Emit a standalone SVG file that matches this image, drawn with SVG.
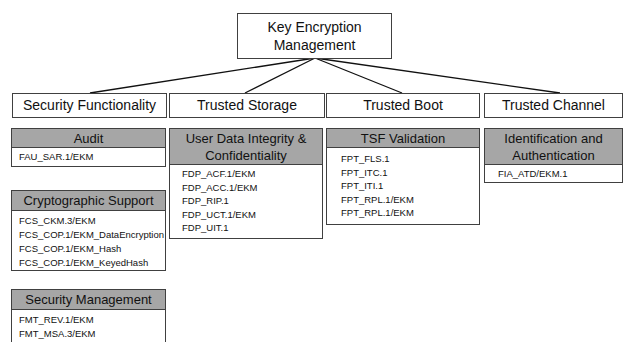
<svg xmlns="http://www.w3.org/2000/svg" width="633" height="342" viewBox="0 0 633 342">
<style>
.box{fill:#fff;stroke:#404040;stroke-width:1}
.hdr{fill:#a6a6a6;stroke:#404040;stroke-width:1}
.t1{font-family:"Liberation Sans",Arial,sans-serif;font-size:14px;fill:#111;text-anchor:middle}
.t2{font-family:"Liberation Sans",Arial,sans-serif;font-size:13px;fill:#111;text-anchor:middle}
.t3{font-family:"Liberation Sans",Arial,sans-serif;font-size:9.5px;fill:#111}
.ln{stroke:#111;stroke-width:1.3;fill:none}
</style>
<rect width="633" height="342" fill="#fff"/>
<g id="connectors">
<line class="ln" x1="315" y1="58" x2="90" y2="93"/>
<line class="ln" x1="315" y1="58" x2="245" y2="93"/>
<line class="ln" x1="315" y1="58" x2="402" y2="93"/>
<line class="ln" x1="315" y1="58" x2="560" y2="93"/>
</g>
<g id="root">
<rect class="box" x="237.5" y="13.5" width="154" height="45"/>
<text class="t1" x="314.5" y="32">Key Encryption</text>
<text class="t1" x="314.5" y="50">Management</text>
</g>
<g id="security-functionality">
<rect class="box" x="12.5" y="93.5" width="154" height="24"/>
<text class="t1" x="89.5" y="110">Security Functionality</text>
</g>
<g id="trusted-storage">
<rect class="box" x="169.5" y="93.5" width="155" height="24"/>
<text class="t1" x="247" y="110">Trusted Storage</text>
</g>
<g id="trusted-boot">
<rect class="box" x="326.5" y="93.5" width="153" height="24"/>
<text class="t1" x="403" y="110">Trusted Boot</text>
</g>
<g id="trusted-channel">
<rect class="box" x="484.5" y="93.5" width="138" height="24"/>
<text class="t1" x="553.5" y="110">Trusted Channel</text>
</g>
<g id="audit">
<rect class="box" x="11.5" y="128.5" width="154" height="38"/>
<rect class="hdr" x="11.5" y="128.5" width="154" height="19"/>
<text class="t2" x="88.5" y="142.5">Audit</text>
<text class="t3" x="19" y="160">FAU_SAR.1/EKM</text>
</g>
<g id="user-data-integrity">
<rect class="box" x="169.5" y="128.5" width="153" height="110"/>
<rect class="hdr" x="169.5" y="128.5" width="153" height="36"/>
<text class="t2" x="246" y="143">User Data Integrity &amp;</text>
<text class="t2" x="246" y="160">Confidentiality</text>
<text class="t3" x="182" y="177">FDP_ACF.1/EKM</text>
<text class="t3" x="182" y="190.5">FDP_ACC.1/EKM</text>
<text class="t3" x="182" y="204">FDP_RIP.1</text>
<text class="t3" x="182" y="217.5">FDP_UCT.1/EKM</text>
<text class="t3" x="182" y="231">FDP_UIT.1</text>
</g>
<g id="tsf-validation">
<rect class="box" x="326.5" y="128.5" width="153" height="96"/>
<rect class="hdr" x="326.5" y="128.5" width="153" height="19"/>
<text class="t2" x="403" y="142.5">TSF Validation</text>
<text class="t3" x="341" y="162">FPT_FLS.1</text>
<text class="t3" x="341" y="175.5">FPT_ITC.1</text>
<text class="t3" x="341" y="189">FPT_ITI.1</text>
<text class="t3" x="341" y="202.5">FPT_RPL.1/EKM</text>
<text class="t3" x="341" y="216">FPT_RPL.1/EKM</text>
</g>
<g id="identification-authentication">
<rect class="box" x="484.5" y="128.5" width="138" height="54"/>
<rect class="hdr" x="484.5" y="128.5" width="138" height="36"/>
<text class="t2" x="553.5" y="143">Identification and</text>
<text class="t2" x="553.5" y="160">Authentication</text>
<text class="t3" x="498" y="177">FIA_ATD/EKM.1</text>
</g>
<g id="cryptographic-support">
<rect class="box" x="11.5" y="190.5" width="154" height="80"/>
<rect class="hdr" x="11.5" y="190.5" width="154" height="20"/>
<text class="t2" x="88.5" y="205">Cryptographic Support</text>
<text class="t3" x="19" y="224">FCS_CKM.3/EKM</text>
<text class="t3" x="19" y="238">FCS_COP.1/EKM_DataEncryption</text>
<text class="t3" x="19" y="252">FCS_COP.1/EKM_Hash</text>
<text class="t3" x="19" y="266">FCS_COP.1/EKM_KeyedHash</text>
</g>
<g id="security-management">
<rect class="box" x="11.5" y="289.5" width="154" height="60"/>
<rect class="hdr" x="11.5" y="289.5" width="154" height="20"/>
<text class="t2" x="88.5" y="304">Security Management</text>
<text class="t3" x="19" y="323">FMT_REV.1/EKM</text>
<text class="t3" x="19" y="337">FMT_MSA.3/EKM</text>
</g>
</svg>
